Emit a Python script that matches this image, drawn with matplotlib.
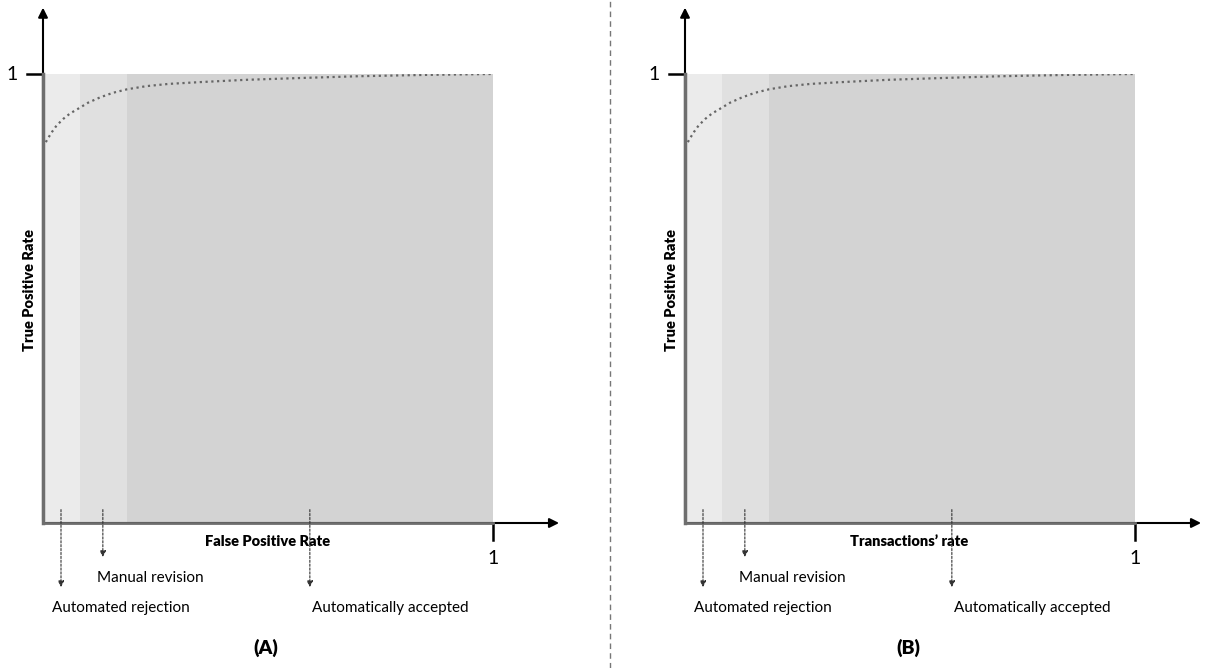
import matplotlib.pyplot as plt
from matplotlib.lines import Line2D
import numpy as np

plt.rcParams['font.family'] = ['Lato', 'DejaVu Sans']

# ROC-like curve
fpr = [0, 0.01, 0.02, 0.03, 0.045, 0.06, 0.082, 0.10, 0.127, 0.155, 0.187,
       0.23, 0.28, 0.35, 0.45, 0.57, 0.7, 0.85, 1.0]
tpr = [0.837, 0.855, 0.871, 0.885, 0.900, 0.912, 0.925, 0.936, 0.948, 0.958, 0.966,
       0.973, 0.978, 0.982, 0.987, 0.991, 0.995, 0.998, 1.0]

# shaded zones (x start, x end) and their greys
zone_edges = [0.0, 0.082, 0.187, 1.0]
zone_colors = ['#ebebeb', '#e0e0e0', '#d3d3d3']

# annotation arrows: x position, arrow end, label
arrow_x = [0.04, 0.133, 0.593]
arrow_end = [-0.149, -0.082, -0.149]
zone_labels = ['Automated rejection', 'Manual revision', 'Automatically accepted']
label_x = [0.02, 0.12, 0.598]
label_y = [-0.189, -0.122, -0.189]

panels = ['(A)', '(B)']
xlabels = ['False Positive Rate', 'Transactions\u2019 rate']
ylabel = 'True Positive Rate'

fig = plt.figure(figsize=(12.08, 6.68), dpi=100)
W, H = 1208, 668
lefts = [43, 685]

for i in range(2):
    ax = fig.add_axes([lefts[i] / W, (H - 523) / H, 450 / W, 449 / H])
    ax.set_xlim(0, 1)
    ax.set_ylim(0, 1)
    ax.axis('off')

    for j in range(3):
        ax.axvspan(zone_edges[j], zone_edges[j + 1], color=zone_colors[j], lw=0, zorder=0)

    ax.plot(fpr, tpr, ls=(0, (1, 1.6)), color='#666666', lw=1.6, zorder=2)

    # axes with arrows
    ax.annotate('', xy=(1.153, 0), xytext=(0, 0), annotation_clip=False,
                arrowprops=dict(arrowstyle='-|>', color='black', lw=1.5, mutation_scale=14))
    ax.annotate('', xy=(0, 1.154), xytext=(0, 0), annotation_clip=False,
                arrowprops=dict(arrowstyle='-|>', color='black', lw=1.5, mutation_scale=14))
    ax.plot([0, 1], [0, 0], color='#6e6e6e', lw=2, clip_on=False, zorder=3)
    ax.plot([0, 0], [0, 1], color='#6e6e6e', lw=2.5, clip_on=False, zorder=3)

    # ticks at 1
    ax.plot([-0.036, 0], [1, 1], color='black', lw=1.8, clip_on=False)
    ax.plot([1, 1], [0, -0.038], color='black', lw=1.8, clip_on=False)
    ax.text(-0.069, 1, '1', ha='center', va='center', fontsize=14)
    ax.text(1.0, -0.078, '1', ha='center', va='center', fontsize=14)

    ax.text(0.498, -0.042, xlabels[i], ha='center', va='center', fontsize=10.5, fontweight='heavy')
    ax.text(-0.029, 0.519, ylabel, ha='center', va='center', rotation=90, fontsize=10.5,
            fontweight='heavy')

    for k in range(3):
        ax.annotate('', xy=(arrow_x[k], arrow_end[k]), xytext=(arrow_x[k], 0.036),
                    annotation_clip=False,
                    arrowprops=dict(arrowstyle='-|>', color='#333333', lw=0.8,
                                    ls=(0, (2, 1.5)), mutation_scale=9))
        ax.text(label_x[k], label_y[k], zone_labels[k], ha='left', va='center', fontsize=11)

    ax.text(0.496, -0.278, panels[i], ha='center', va='center', fontsize=14, fontweight='heavy')

fig.add_artist(Line2D([610 / W, 610 / W], [0, 1], transform=fig.transFigure,
                      color='#777777', lw=1, ls=(0, (4, 3))))

fig.savefig('out.png', dpi=100)
